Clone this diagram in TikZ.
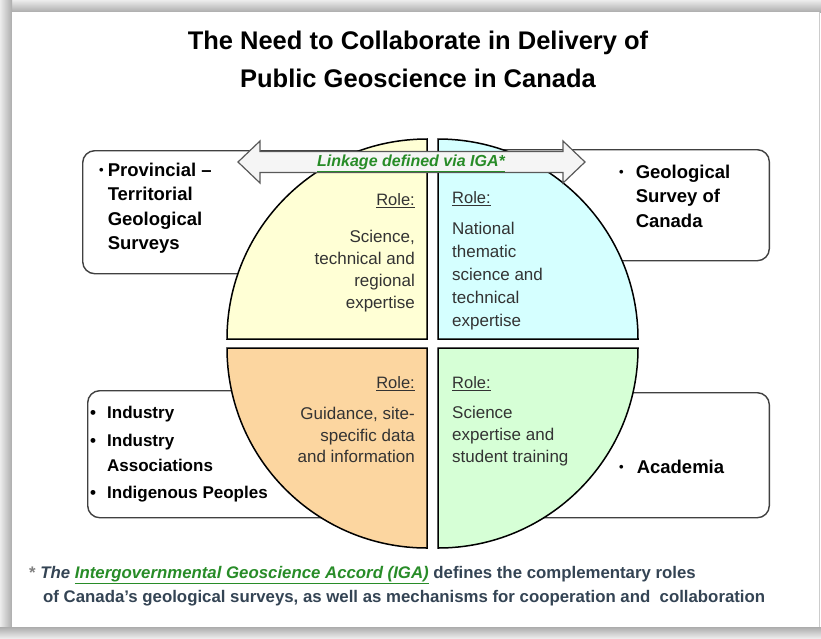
\documentclass[tikz,border=0pt]{standalone}
\usepackage{fontspec}
\setmainfont{Liberation Sans}
\usepackage{tikz}
\usetikzlibrary{positioning}
\definecolor{roleyellow}{RGB}{255,255,213}
\definecolor{rolecyan}{RGB}{213,255,255}
\definecolor{roleorange}{RGB}{252,214,160}
\definecolor{rolegreen}{RGB}{214,255,214}
\definecolor{igagreen}{RGB}{40,140,40}
\definecolor{notegray}{RGB}{52,68,84}
\definecolor{boxline}{RGB}{64,64,64}

\newcommand{\fsz}[2]{\fontsize{#1}{#2}\selectfont}
\newcommand{\smalldot}{\raisebox{1.5pt}{\fsz{13}{13}\textbullet}}

\begin{document}
\begin{tikzpicture}[x=1pt, y=1pt,
  group/.style={draw=boxline, line width=1.4pt, rounded corners=12pt, fill=white, inner sep=0pt},
  quad/.style={draw=black, line width=1.5pt},
  role/.style={font=\fsz{16.5}{20}, text=black!80, inner sep=0pt},
  roletxt/.style={font=\fsz{17}{22}, text=black!80, inner sep=0pt},
  members/.style={font=\fsz{18.5}{24.5}\bfseries, inner sep=0pt},
  note/.style={font=\fsz{16.8}{23}\bfseries, text=notegray, inner sep=0pt, anchor=west}
]
\useasboundingbox (0,0) rectangle (821,-638);

% frame
\shade[top color=gray!15, bottom color=gray!65] (0,0) rectangle (821,-12);
\shade[left color=gray!15, right color=gray!65] (0,0) rectangle (12,-638);
\shade[top color=gray!65, bottom color=gray!15] (0,-627) rectangle (821,-638);
\fill[white] (12,-12) rectangle (819,-627);
\draw[gray!40, line width=1pt] (819,-12) -- (819,-627);

\node[font=\fsz{25.5}{38}\bfseries, align=center] (title) at (418,-59)
  {The Need to Collaborate in Delivery of\\Public Geoscience in Canada};

% partner boxes (behind the circle)
\node[group, anchor=north west, minimum width=300pt, minimum height=123pt] (provbox) at (82,-150) {};
\node[group, anchor=north east, minimum width=300pt, minimum height=111pt] (gscbox) at (770,-149) {};
\node[group, anchor=north west, minimum width=300pt, minimum height=127pt] (indbox) at (87,-390) {};
\node[group, anchor=north east, minimum width=300pt, minimum height=125pt] (acadbox) at (770,-392) {};

\node[members, anchor=base west] (provtxt) at (99,-176)
  {\begin{tabular}[t]{@{}l@{\hspace{4pt}}l@{}}
   \smalldot & Provincial –\\ & Territorial\\ & Geological\\ & Surveys
   \end{tabular}};
\node[members, anchor=base west] (gsctxt) at (619,-178)
  {\begin{tabular}[t]{@{}l@{\hspace{12pt}}l@{}}
   \smalldot & Geological\\ & Survey of\\ & Canada
   \end{tabular}};
\node[members, font=\fsz{17}{25}\bfseries, anchor=base west] (indtxt) at (90,-418)
  {\begin{tabular}[t]{@{}l@{\hspace{11pt}}l@{}}
   \textbullet & Industry\\[3pt] \textbullet & Industry\\ & Associations\\[2pt] \textbullet & Indigenous Peoples
   \end{tabular}};
\node[members, anchor=base west] (acadtxt) at (619,-473)
  {\begin{tabular}[t]{@{}l@{\hspace{13pt}}l@{}}
   \smalldot & Academia
   \end{tabular}};

% the four quarters
\draw[quad, fill=roleyellow] (427,-339) -- (227,-339) arc[start angle=180, end angle=90, radius=200] -- cycle;
\draw[quad, fill=rolecyan]   (438,-339) -- (438,-139) arc[start angle=90, end angle=0, radius=200] -- cycle;
\draw[quad, fill=roleorange] (427,-348) -- (427,-548) arc[start angle=270, end angle=180, radius=200] -- cycle;
\draw[quad, fill=rolegreen]  (438,-348) -- (638,-348) arc[start angle=0, end angle=-90, radius=200] -- cycle;

\node[role, anchor=east] (tlrole) at (415,-201) {\underline{Role:}};
\node[roletxt, align=right, anchor=east] (tltxt) at (415,-271.5)
  {Science,\\technical and\\regional\\expertise};
\node[role, anchor=west] (trrole) at (452,-199) {\underline{Role:}};
\node[roletxt, font=\fsz{17}{23}, align=left, anchor=west] (trtxt) at (452,-276)
  {National\\thematic\\science and\\technical\\expertise};
\node[role, anchor=east] (blrole) at (415,-384) {\underline{Role:}};
\node[roletxt, font=\fsz{17}{21.5}, align=right, anchor=east] (bltxt) at (415,-435)
  {Guidance, site-\\specific data\\and information};
\node[role, anchor=west] (brrole) at (452,-384) {\underline{Role:}};
\node[roletxt, align=left, anchor=west] (brtxt) at (452,-436)
  {Science\\expertise and\\student training};

% linkage arrow
\draw[fill=gray!8, draw=gray!70!black, line width=1.2pt]
  (238,-162) -- (260,-141) -- (260,-151.5) -- (563,-151.5) -- (563,-141) -- (585,-162)
  -- (563,-183) -- (563,-172.5) -- (260,-172.5) -- (260,-183) -- cycle;
\node[font=\fsz{16}{16}\bfseries\itshape, text=igagreen] (link) at (411,-163)
  {\underline{Linkage defined via IGA*}};

% footnote
\node[note] (note1) at (29,-575)
  {{\color{gray}*} \textit{The} \textcolor{igagreen}{\underline{\textit{Intergovernmental Geoscience Accord (IGA)}}} defines the complementary roles};
\node[note] (note2) at (43,-598)
  {of Canada’s geological surveys, as well as mechanisms for cooperation and\ \ collaboration};
\end{tikzpicture}
\end{document}
